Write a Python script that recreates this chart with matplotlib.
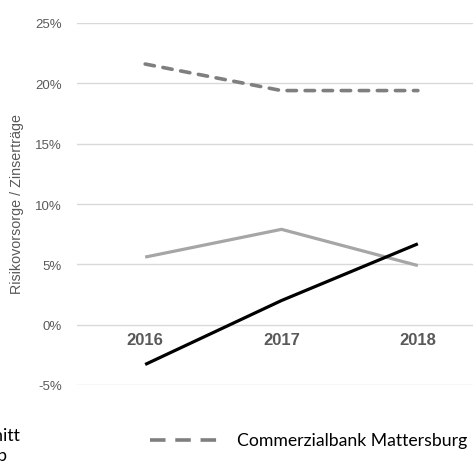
import matplotlib
matplotlib.use("Agg")
import matplotlib.pyplot as plt
from matplotlib.lines import Line2D

# data (Risikovorsorge / Zinserträge, in %)
jahre = ['2016', '2017', '2018']
commerzialbank = [21.6, 19.4, 19.4]
durchschnitt = [5.6, 7.9, 4.9]
peergroup = [-3.3, 2.0, 6.7]
yticks = [-5, 0, 5, 10, 15, 20, 25]

W, H = 473, 464
fig = plt.figure(figsize=(W / 100, H / 100), dpi=100)
ax = fig.add_axes([77 / W, (H - 386) / H, 409 / W, 362 / H])

x = range(len(jahre))
ax.plot(x, durchschnitt, color='#a6a6a6', lw=2.3, solid_capstyle='butt')
ax.plot(x, peergroup, color='black', lw=2.3, solid_capstyle='butt')
ax.plot(x, commerzialbank, color='#7f7f7f', lw=2.6,
        linestyle=(0, (2.6, 2.4)), dash_capstyle='round')

ax.set_xlim(-0.5, 2.5)
ax.set_ylim(-5, 25)
ax.set_yticks(yticks)
ax.set_yticklabels([f'{t}%' for t in yticks], fontsize=9.5, color='#595959',
                   family='Liberation Sans')
ax.tick_params(axis='y', length=0, pad=11)
ax.set_xticks([])
ax.grid(axis='y', color='#d9d9d9', lw=1)
ax.set_axisbelow(True)
for s in ax.spines.values():
    s.set_visible(False)

# Kategorien direkt unter der 0%-Linie
for i, j in enumerate(jahre):
    ax.annotate(j, (i, 0), xytext=(0, -15), textcoords='offset pixels',
                ha='center', va='center', fontsize=12, fontweight='bold',
                color='#595959', family='Liberation Sans')

fig.text(17 / W, 1 - 204 / H, 'Risikovorsorge / Zinserträge', rotation=90,
         ha='center', va='center', fontsize=10.3, color='#595959',
         family='Liberation Sans')

# Legende (links abgeschnitten wie im Original)
fig.add_artist(Line2D([150 / W, 218 / W], [1 - 441 / H, 1 - 441 / H],
                      color='#7f7f7f', lw=2.6, linestyle=(0, (4.3, 2.7)),
                      dash_capstyle='butt'))
fig.text(237 / W, 1 - 441 / H, 'Commerzialbank Mattersburg', ha='left',
         va='center', fontsize=12.7, color='black', family='Lato')
fig.text(20 / W, 1 - 436 / H, 'Durchschnitt', ha='right', va='center',
         fontsize=12.7, color='black', family='Lato')
fig.text(7 / W, 1 - 456 / H, 'Peergroup', ha='right', va='center',
         fontsize=12.7, color='black', family='Lato')

fig.savefig('out.png', dpi=100)
